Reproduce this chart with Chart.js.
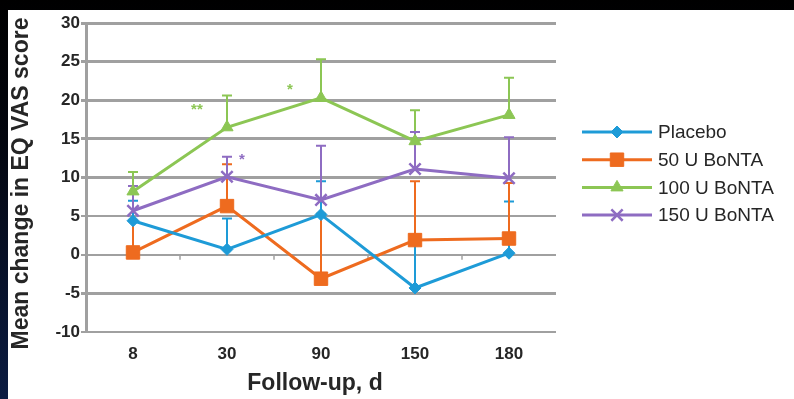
<!DOCTYPE html>
<html>
<head>
<meta charset="utf-8">
<script src="https://cdn.jsdelivr.net/npm/chart.js@4/dist/chart.umd.min.js"></script>
<style>
  html, body { margin: 0; padding: 0; width: 794px; height: 399px; overflow: hidden; background: #000; }
  #frame { position: absolute; left: 0; top: 0; width: 794px; height: 399px;
           background: linear-gradient(to bottom, #000 0%, #03060f 35%, #0c1c42 100%); }
  #wrap { position: absolute; left: 8px; top: 10px; width: 786px; height: 389px; background: #fff; }
</style>
</head>
<body>
<div id="frame"></div>
<div id="wrap"><canvas id="c"></canvas></div>
<script>
// Follow-up days (x categories)
const days = ['8', '30', '90', '150', '180'];

// Mean change in EQ VAS score per group, and upper error bar length
const placebo    = [4.4, 0.7, 5.2, -4.3, 0.2];
const placeboErr = [2.6, 4.0, 4.3, 6.0, 6.7];
const bonta50    = [0.3, 6.3, -3.1, 1.9, 2.1];
const bonta50Err = [4.1, 5.4, 8.4, 7.6, 7.2];
const bonta100    = [8.2, 16.5, 20.3, 14.7, 18.1];
const bonta100Err = [2.5, 4.1, 5.0, 4.0, 4.8];
const bonta150    = [5.7, 10.1, 7.1, 11.1, 9.9];
const bonta150Err = [3.2, 2.6, 7.0, 4.8, 5.3];

// Y axis ticks
const yTicks = [-10, -5, 0, 5, 10, 15, 20, 25, 30];

// Axis titles
const xTitle = 'Follow-up, d';
const yTitle = 'Mean change in EQ VAS score';

// Significance marks: [category position, value, text, colour]
const sigMarks = [
  [0.68, 18.7, '**', '#8cc654'],
  [1.67, 21.4, '*',  '#8cc654'],
  [1.16, 12.3, '*',  '#8e6cc2']
];

const BLUE = '#1e9bd7', ORANGE = '#ee6b1f', GREEN = '#8cc654', PURPLE = '#8e6cc2';
const GRID = '#a0a0a0', TEXT = '#262626';
const FONT = '"Liberation Sans", Arial, sans-serif';

function series(label, data, err, color, style, radius) {
  return {
    label, data, err,
    borderColor: color, backgroundColor: color,
    borderWidth: 3,
    pointStyle: style, pointRadius: radius, pointHoverRadius: radius,
    pointBorderColor: color, pointBackgroundColor: color,
    pointBorderWidth: style === 'crossRot' ? 2.5 : 1,
    tension: 0, fill: false
  };
}

// Upper error bars with caps, drawn beneath the lines and markers
const errorBars = {
  id: 'errorBars',
  beforeDatasetsDraw(chart) {
    const { ctx, scales: { y } } = chart;
    ctx.save();
    ctx.beginPath();
    ctx.rect(chart.chartArea.left, chart.chartArea.top - 2,
             chart.chartArea.right - chart.chartArea.left, chart.chartArea.bottom - chart.chartArea.top + 2);
    ctx.clip();
    chart.data.datasets.forEach((ds, i) => {
      const meta = chart.getDatasetMeta(i);
      ctx.strokeStyle = ds.borderColor;
      ctx.lineWidth = 2;
      meta.data.forEach((pt, j) => {
        const top = y.getPixelForValue(ds.data[j] + ds.err[j]);
        ctx.beginPath();
        ctx.moveTo(pt.x, pt.y);
        ctx.lineTo(pt.x, top);
        ctx.moveTo(pt.x - 5, top);
        ctx.lineTo(pt.x + 5, top);
        ctx.stroke();
      });
    });
    ctx.restore();
  }
};

// Category boundary ticks on the zero line, axis titles and significance marks
const extras = {
  id: 'extras',
  beforeDatasetsDraw(chart) {
    const { ctx, scales: { x, y } } = chart;
    const y0 = y.getPixelForValue(0);
    ctx.save();
    ctx.strokeStyle = GRID;
    ctx.lineWidth = 1.5;
    for (let k = 0.5; k < days.length - 1; k += 1) {
      const px = Math.round(x.getPixelForValue(k));
      ctx.beginPath();
      ctx.moveTo(px, y0);
      ctx.lineTo(px, y0 + 5);
      ctx.stroke();
    }
    ctx.restore();
  },
  afterDatasetsDraw(chart) {
    const { ctx, chartArea: a, scales: { x, y } } = chart;
    ctx.save();
    ctx.font = 'bold 15px ' + FONT;
    ctx.textAlign = 'center';
    ctx.textBaseline = 'middle';
    sigMarks.forEach(([pos, val, txt, col]) => {
      ctx.fillStyle = col;
      ctx.fillText(txt, x.getPixelForValue(pos), y.getPixelForValue(val));
    });

    ctx.fillStyle = TEXT;
    ctx.font = 'bold 23px ' + FONT;
    ctx.fillText(xTitle, (a.left + a.right) / 2 - 6, a.bottom + 52);

    ctx.translate(14, (a.top + a.bottom) / 2 + 6);
    ctx.rotate(-Math.PI / 2);
    ctx.fillText(yTitle, 0, 0);
    ctx.restore();
  }
};

// Legend: line segment with the series marker, then the label
const lineLegend = {
  id: 'lineLegend',
  afterDraw(chart) {
    const { ctx } = chart;
    const x0 = 574, x1 = 644, xm = 609, xt = 650;
    const yStart = 122, step = 27.7;
    ctx.save();
    chart.data.datasets.forEach((ds, i) => {
      const yy = yStart + i * step;
      ctx.strokeStyle = ds.borderColor;
      ctx.lineWidth = 3;
      ctx.beginPath();
      ctx.moveTo(x0, yy);
      ctx.lineTo(x1, yy);
      ctx.stroke();
      ctx.fillStyle = ds.backgroundColor;
      ctx.lineWidth = ds.pointBorderWidth;
      Chart.helpers.drawPoint(ctx, {
        pointStyle: ds.pointStyle, radius: ds.pointRadius, rotation: 0, borderWidth: ds.pointBorderWidth
      }, xm, yy);
      ctx.fillStyle = TEXT;
      ctx.font = '19px ' + FONT;
      ctx.textAlign = 'left';
      ctx.textBaseline = 'middle';
      ctx.fillText(ds.label, xt, yy + 1);
    });
    ctx.restore();
  }
};

const thickLines = [30, 25, 20, 15, 10, -5];

new Chart(document.getElementById('c'), {
  type: 'line',
  data: {
    labels: days,
    datasets: [
      series('Placebo', placebo, placeboErr, BLUE, 'rectRot', 6),
      series('50 U BoNTA', bonta50, bonta50Err, ORANGE, 'rect', 9.5),
      series('100 U BoNTA', bonta100, bonta100Err, GREEN, 'triangle', 7),
      series('150 U BoNTA', bonta150, bonta150Err, PURPLE, 'crossRot', 8)
    ]
  },
  options: {
    responsive: true,
    maintainAspectRatio: false,
    animation: false,
    events: [],
    layout: { padding: { top: 13, right: 238, left: 0, bottom: 0 } },
    plugins: { legend: { display: false }, tooltip: { enabled: false } },
    scales: {
      x: {
        offset: true,
        grid: { display: false, drawTicks: false },
        border: { display: false },
        ticks: { color: TEXT, font: { family: FONT, size: 17, weight: 'bold' }, padding: 12, maxRotation: 0 },
        afterFit(s) { s.height = 67; }
      },
      y: {
        min: -10, max: 30,
        afterBuildTicks(s) { s.ticks = yTicks.map(v => ({ value: v })); },
        grid: {
          color: GRID,
          lineWidth: c => thickLines.includes(c.tick && c.tick.value) ? 3 : 2,
          tickLength: 5,
          drawTicks: true
        },
        border: { display: true, color: GRID, width: 3 },
        ticks: { color: TEXT, font: { family: FONT, size: 17, weight: 'bold' }, padding: 1 },
        afterFit(s) { s.width = 78; }
      }
    }
  },
  plugins: [errorBars, extras, lineLegend]
});
</script>
</body>
</html>
